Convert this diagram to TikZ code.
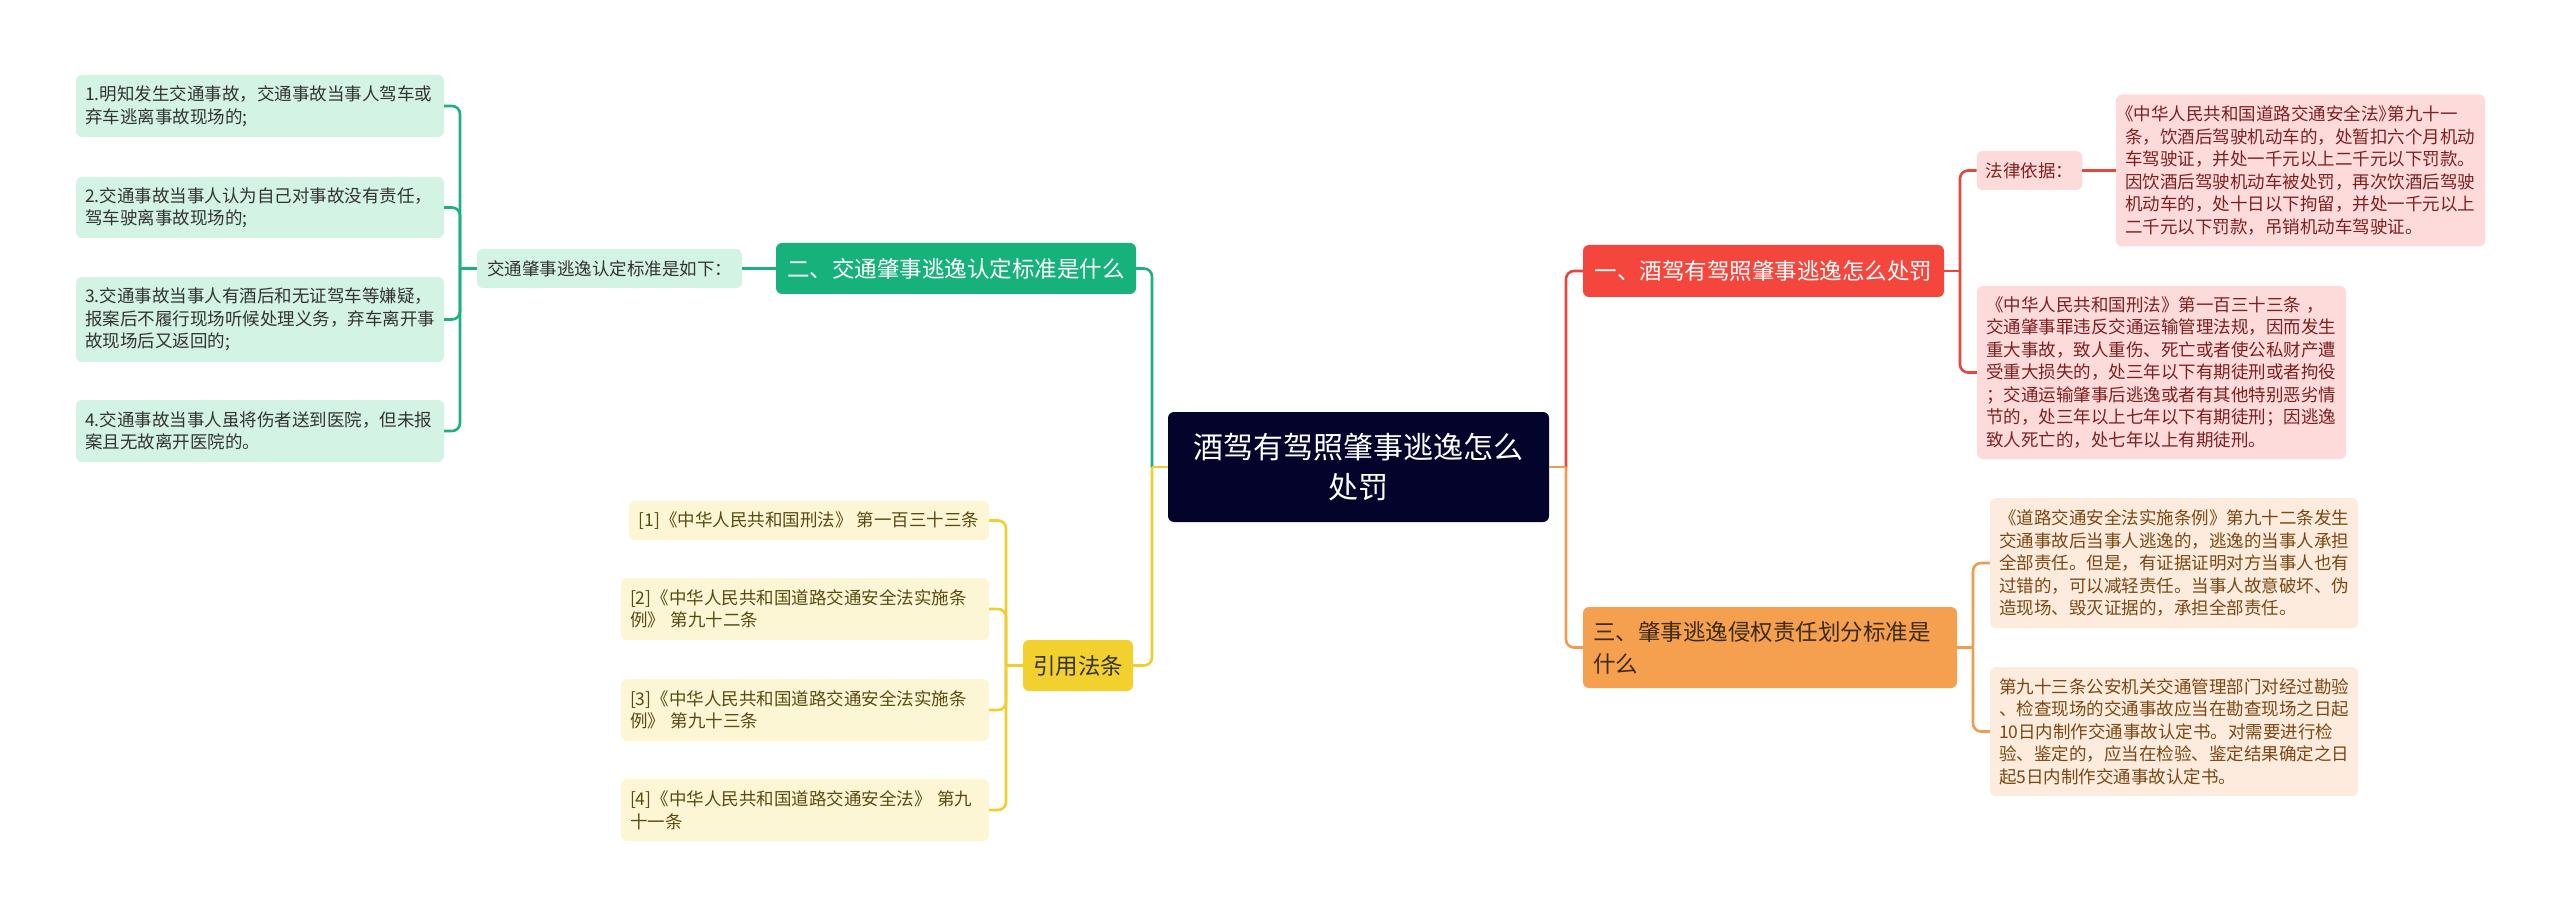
\documentclass[tikz,border=0pt]{standalone}
\usepackage{fontspec}
\setmainfont{Noto Sans CJK SC}
\newcommand\halfbk[1]{{\addfontfeature{RawFeature=+halt}#1}}

\definecolor{rootbg}{HTML}{03032B}
\definecolor{gmain}{HTML}{17B27B}
\definecolor{glight}{HTML}{D3F3E5}
\definecolor{gline}{HTML}{1DB27C}
\definecolor{gtext}{HTML}{333333}
\definecolor{rmain}{HTML}{F4463C}
\definecolor{rlight}{HTML}{FDDBDB}
\definecolor{rline}{HTML}{E5463D}
\definecolor{rtext}{HTML}{7D2020}
\definecolor{omain}{HTML}{F4A04E}
\definecolor{olight}{HTML}{FDECDD}
\definecolor{oline}{HTML}{EE9D50}
\definecolor{otext}{HTML}{7A4814}
\definecolor{othree}{HTML}{3D2A12}
\definecolor{ymain}{HTML}{F2D12E}
\definecolor{ylight}{HTML}{FDF6D5}
\definecolor{yline}{HTML}{F0CE2E}
\definecolor{ytext}{HTML}{5A4A12}

\begin{document}
\begin{tikzpicture}[x=1pt, y=-1pt,
    every node/.style={rounded corners=6pt, inner ysep=0pt, align=left},
    rootbox/.style={fill=rootbg, text=white, align=center, font=\fontsize{30}{40}\selectfont},
    topicbox/.style={inner xsep=10pt, font=\fontsize{22.5}{32}\selectfont},
    leafbox/.style={inner xsep=9pt, font=\fontsize{17.5}{22.5}\selectfont},
    link/.style={line width=2.6pt, rounded corners=8pt}]

    \fill[white] (0,0) rectangle (2560,917);
    \useasboundingbox (0,0) rectangle (2560,917);

    % Nodes
    \node[rootbox, minimum width=381pt, minimum height=110pt] (root) at (1358.5,467) {酒驾有驾照肇事逃逸怎么\\处罚};

    % green branch
    \node[topicbox, fill=gmain, text=white, minimum width=360pt, minimum height=51pt] (two) at (956,268.5) {二、交通肇事逃逸认定标准是什么};
    \node[leafbox, fill=glight, text=gtext, minimum width=265pt, minimum height=39pt] (twosub) at (609.5,268.5) {交通肇事逃逸认定标准是如下：};
    \node[leafbox, fill=glight, text=gtext, text width=350pt, minimum height=62pt] (g1) at (260,106) {1.明知发生交通事故，交通事故当事人驾车或\\弃车逃离事故现场的;};
    \node[leafbox, fill=glight, text=gtext, text width=350pt, minimum height=61pt] (g2) at (260,207.5) {2.交通事故当事人认为自己对事故没有责任，\\驾车驶离事故现场的;};
    \node[leafbox, fill=glight, text=gtext, text width=350pt, minimum height=85pt] (g3) at (260,319.5) {3.交通事故当事人有酒后和无证驾车等嫌疑，\\报案后不履行现场听候处理义务，弃车离开事\\故现场后又返回的;};
    \node[leafbox, fill=glight, text=gtext, text width=350pt, minimum height=62pt] (g4) at (260,431) {4.交通事故当事人虽将伤者送到医院，但未报\\案且无故离开医院的。};

    % yellow branch
    \node[topicbox, fill=ymain, text=gtext, minimum width=110pt, minimum height=51pt] (cite) at (1078,665.5) {引用法条};
    \node[leafbox, fill=ylight, text=ytext, minimum width=360pt, minimum height=39pt] (y1) at (809,520.5) {[1]《中华人民共和国刑法》 第一百三十三条};
    \node[leafbox, fill=ylight, text=ytext, text width=350pt, minimum height=62pt] (y2) at (805,609) {[2]《中华人民共和国道路交通安全法实施条\\例》 第九十二条};
    \node[leafbox, fill=ylight, text=ytext, text width=350pt, minimum height=62pt] (y3) at (805,710) {[3]《中华人民共和国道路交通安全法实施条\\例》 第九十三条};
    \node[leafbox, fill=ylight, text=ytext, text width=350pt, minimum height=62pt] (y4) at (805,810) {[4]《中华人民共和国道路交通安全法》 第九\\十一条};

    % red branch
    \node[topicbox, fill=rmain, text=white, minimum width=361pt, minimum height=52pt] (one) at (1763.5,271) {一、酒驾有驾照肇事逃逸怎么处罚};
    \node[leafbox, fill=rlight, text=rtext, minimum width=105pt, minimum height=39pt] (law) at (2029.5,170.5) {法律依据：};
    \node[leafbox, fill=rlight, text=rtext, text width=351pt, minimum height=152pt] (r1) at (2300.5,170.5) {\halfbk{《}中华人民共和国道路交通安全法\halfbk{》}第九十一\\条，饮酒后驾驶机动车的，处暂扣六个月机动\\车驾驶证，并处一千元以上二千元以下罚款。\\因饮酒后驾驶机动车被处罚，再次饮酒后驾驶\\机动车的，处十日以下拘留，并处一千元以上\\二千元以下罚款，吊销机动车驾驶证。};
    \node[leafbox, fill=rlight, text=rtext, text width=351pt, minimum height=173pt] (r2) at (2161.5,372.5) {《中华人民共和国刑法》第一百三十三条 ，\\交通肇事罪违反交通运输管理法规，因而发生\\重大事故，致人重伤、死亡或者使公私财产遭\\受重大损失的，处三年以下有期徒刑或者拘役\\；交通运输肇事后逃逸或者有其他特别恶劣情\\节的，处三年以上七年以下有期徒刑；因逃逸\\致人死亡的，处七年以上有期徒刑。};

    % orange branch
    \node[topicbox, fill=omain, text=othree, text width=354pt, minimum height=81pt] (three) at (1770,647.5) {三、肇事逃逸侵权责任划分标准是\\什么};
    \node[leafbox, fill=olight, text=otext, text width=350pt, minimum height=130pt] (o1) at (2174,563) {《道路交通安全法实施条例》第九十二条发生\\交通事故后当事人逃逸的，逃逸的当事人承担\\全部责任。但是，有证据证明对方当事人也有\\过错的，可以减轻责任。当事人故意破坏、伪\\造现场、毁灭证据的，承担全部责任。};
    \node[leafbox, fill=olight, text=otext, text width=350pt, minimum height=129pt] (o2) at (2174,731.5) {第九十三条公安机关交通管理部门对经过勘验\\、检查现场的交通事故应当在勘查现场之日起\\10日内制作交通事故认定书。对需要进行检\\验、鉴定的，应当在检验、鉴定结果确定之日\\起5日内制作交通事故认定书。};

    % hubs
    \coordinate (lhub) at (1152,467);
    \coordinate (rhub) at (1566,467);
    \coordinate (ghub) at (460,268.5);
    \coordinate (yhub) at (1006,665.5);
    \coordinate (rbhub) at (1960,271);
    \coordinate (ohub) at (1973,647.5);

    % Edges
    \draw[link, gline] (lhub) |- (two.east);
    \draw[link, yline] (lhub) |- (cite.east);
    \draw[link, yline] (root.west) -- (lhub);
    \draw[link, rline] (rhub) |- (one.west);
    \draw[link, oline] (rhub) |- (three.west);
    \draw[link, oline] (root.east) -- (rhub);

    \draw[link, gline] (two.west) -- (twosub.east);
    \draw[link, gline] (twosub.west) -- (ghub);
    \foreach \n in {g1,g2,g3,g4} {
        \draw[link, gline] (ghub) |- (\n.east);
    }

    \draw[link, yline] (cite.west) -- (yhub);
    \foreach \n in {y1,y2,y3,y4} {
        \draw[link, yline] (yhub) |- (\n.east);
    }

    \draw[link, rline] (one.east) -- (rbhub);
    \foreach \n in {law,r2} {
        \draw[link, rline] (rbhub) |- (\n.west);
    }
    \draw[link, rline] (law.east) -- (r1.west);

    \draw[link, oline] (three.east) -- (ohub);
    \foreach \n in {o1,o2} {
        \draw[link, oline] (ohub) |- (\n.west);
    }
\end{tikzpicture}
\end{document}
